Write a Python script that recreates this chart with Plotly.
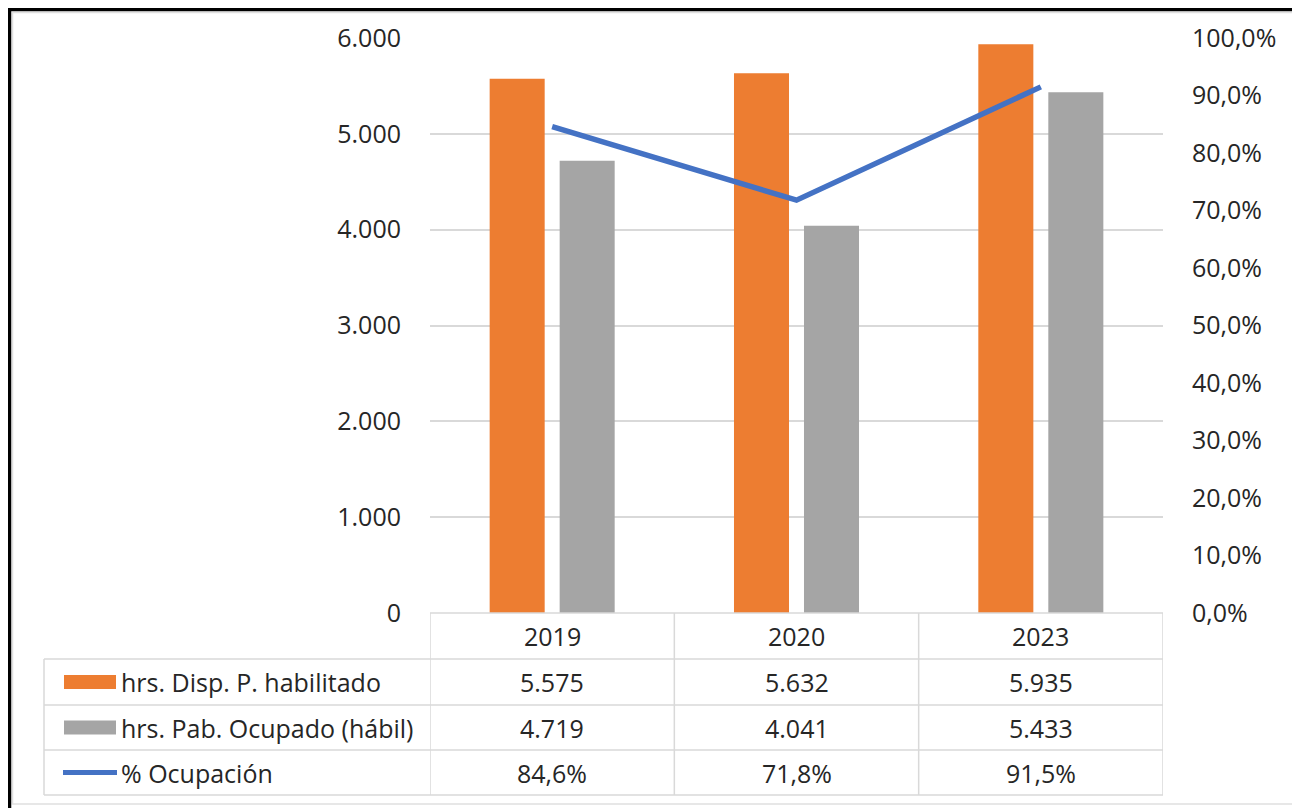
import plotly.graph_objects as go

years = ["2019", "2020", "2023"]
hrs_disp = [5575, 5632, 5935]
hrs_ocup = [4719, 4041, 5433]
pct_ocup = [0.846, 0.718, 0.915]
series_names = ["hrs. Disp. P. habilitado", "hrs. Pab. Ocupado (hábil)", "% Ocupación"]
left_ticks = [0, 1000, 2000, 3000, 4000, 5000, 6000]

ORANGE = "#ED7D31"
GRAY = "#A5A5A5"
BLUE = "#4472C4"
GRID = "#D9D9D9"
TXT = "#262626"
FONT = "Open Sans"
FS = 25

OFF = 8  # page body margin
W, H = 1300 - OFF, 808 - OFF
# plot area in reference (screen) pixels
PX0, PX1, PY0, PY1 = 430, 1163, 38, 613
L, R, T, B = PX0 - OFF, W - (PX1 - OFF), PY0 - OFF, H - (PY1 - OFF)
pw, ph = PX1 - PX0, PY1 - PY0

def px_x(px):
    return (px - PX0) / pw

def px_y(py):
    return (PY1 - py) / ph

fig = go.Figure()
fig.add_trace(go.Bar(x=years, y=hrs_disp, name=series_names[0], marker_color=ORANGE,
                     marker_line_width=0))
fig.add_trace(go.Bar(x=years, y=hrs_ocup, name=series_names[1], marker_color=GRAY,
                     marker_line_width=0))
fig.add_trace(go.Scatter(x=years, y=pct_ocup, name=series_names[2], yaxis="y2",
                         mode="lines", line=dict(color=BLUE, width=5.5)))

shapes = []
annotations = []

row_lines = [613, 659, 705, 750, 795]
table_left = 44
xs_bounds = [-0.5, 0.5, 1.5, 2.5]
LW = 1.5

shapes.append(dict(type="line", xref="x", yref="paper", x0=-0.5, x1=2.5,
                   y0=px_y(row_lines[0]), y1=px_y(row_lines[0]), line=dict(color=GRID, width=LW)))
for py in row_lines[1:]:
    shapes.append(dict(type="line", xref="paper", yref="paper", x0=px_x(table_left), x1=1,
                       y0=px_y(py), y1=px_y(py), line=dict(color=GRID, width=LW)))
for xb in xs_bounds:
    shapes.append(dict(type="line", xref="x", yref="paper", x0=xb, x1=xb,
                       y0=px_y(row_lines[0]), y1=px_y(row_lines[-1]),
                       line=dict(color=GRID, width=LW)))
shapes.append(dict(type="line", xref="paper", yref="paper", x0=px_x(table_left), x1=px_x(table_left),
                   y0=px_y(row_lines[1]), y1=px_y(row_lines[-1]), line=dict(color=GRID, width=LW)))

def row_center(i):
    return px_y((row_lines[i] + row_lines[i + 1]) / 2)

for i, yv in enumerate(years):
    annotations.append(dict(x=i, y=row_center(0), xref="x", yref="paper", text=yv,
                            showarrow=False, xanchor="center", yanchor="middle",
                            font=dict(family=FONT, size=FS, color=TXT)))

fmt_int = lambda v: f"{v:,}".replace(",", ".")
fmt_pct = lambda v: f"{v*100:.1f}%".replace(".", ",")
rows = [[fmt_int(v) for v in hrs_disp], [fmt_int(v) for v in hrs_ocup], [fmt_pct(v) for v in pct_ocup]]
for r, vals in enumerate(rows):
    for i, t in enumerate(vals):
        annotations.append(dict(x=i, y=row_center(r + 1), xref="x", yref="paper", text=t,
                                showarrow=False, xanchor="center", yanchor="middle",
                                font=dict(family=FONT, size=FS, color=TXT)))
    annotations.append(dict(x=px_x(119), y=row_center(r + 1), xref="paper", yref="paper",
                            text=series_names[r], showarrow=False, xanchor="left", yanchor="middle",
                            font=dict(family=FONT, size=FS, color=TXT)))

for r, col in enumerate([ORANGE, GRAY]):
    cy = (row_lines[r + 1] + row_lines[r + 2]) / 2
    shapes.append(dict(type="rect", xref="paper", yref="paper", x0=px_x(64), x1=px_x(116),
                       y0=px_y(cy + 7), y1=px_y(cy - 7), fillcolor=col, line=dict(width=0)))
cy = (row_lines[3] + row_lines[4]) / 2
shapes.append(dict(type="line", xref="paper", yref="paper", x0=px_x(63), x1=px_x(117),
                   y0=px_y(cy), y1=px_y(cy), line=dict(color=BLUE, width=5)))

# outer frame (kept inside the drawable figure area)
shapes.append(dict(type="rect", xref="paper", yref="paper", x0=px_x(12.5), x1=px_x(1294.5),
                   y0=px_y(804), y1=px_y(12.5), line=dict(color="#E0E0E0", width=1.5)))
shapes.append(dict(type="line", xref="paper", yref="paper", x0=px_x(9.5), x1=px_x(9.5),
                   y0=px_y(808), y1=px_y(8), line=dict(color="black", width=3.5)))
shapes.append(dict(type="line", xref="paper", yref="paper", x0=px_x(8), x1=px_x(1299),
                   y0=px_y(9.5), y1=px_y(9.5), line=dict(color="black", width=3.5)))
shapes.append(dict(type="line", xref="paper", yref="paper", x0=px_x(1297), x1=px_x(1297),
                   y0=px_y(808), y1=px_y(8), line=dict(color="black", width=3.5)))

fig.update_layout(
    width=W, height=H,
    margin=dict(l=L, r=R, t=T, b=B),
    paper_bgcolor="white", plot_bgcolor="white",
    separators=",.",
    barmode="group", bargap=0.427, bargroupgap=0.214,
    showlegend=False,
    font=dict(family=FONT, size=FS, color=TXT),
    xaxis=dict(type="category", showticklabels=False, showgrid=False, zeroline=False,
               showline=False, range=[-0.5, 2.5]),
    yaxis=dict(range=[0, 6000], tickvals=left_ticks, tickformat=",d", showgrid=True,
               gridcolor=GRID, gridwidth=1.5, zeroline=False, showline=False,
               ticks="", ticklabelstandoff=28, tickfont=dict(family=FONT, size=FS, color=TXT)),
    yaxis2=dict(range=[0, 1], dtick=0.1, tick0=0, tickformat=".1%", overlaying="y", side="right",
                showgrid=False, zeroline=False, showline=False, ticks="",
                ticklabelstandoff=28, tickfont=dict(family=FONT, size=FS, color=TXT)),
    shapes=shapes, annotations=annotations,
)

fig.write_html("out.html")
